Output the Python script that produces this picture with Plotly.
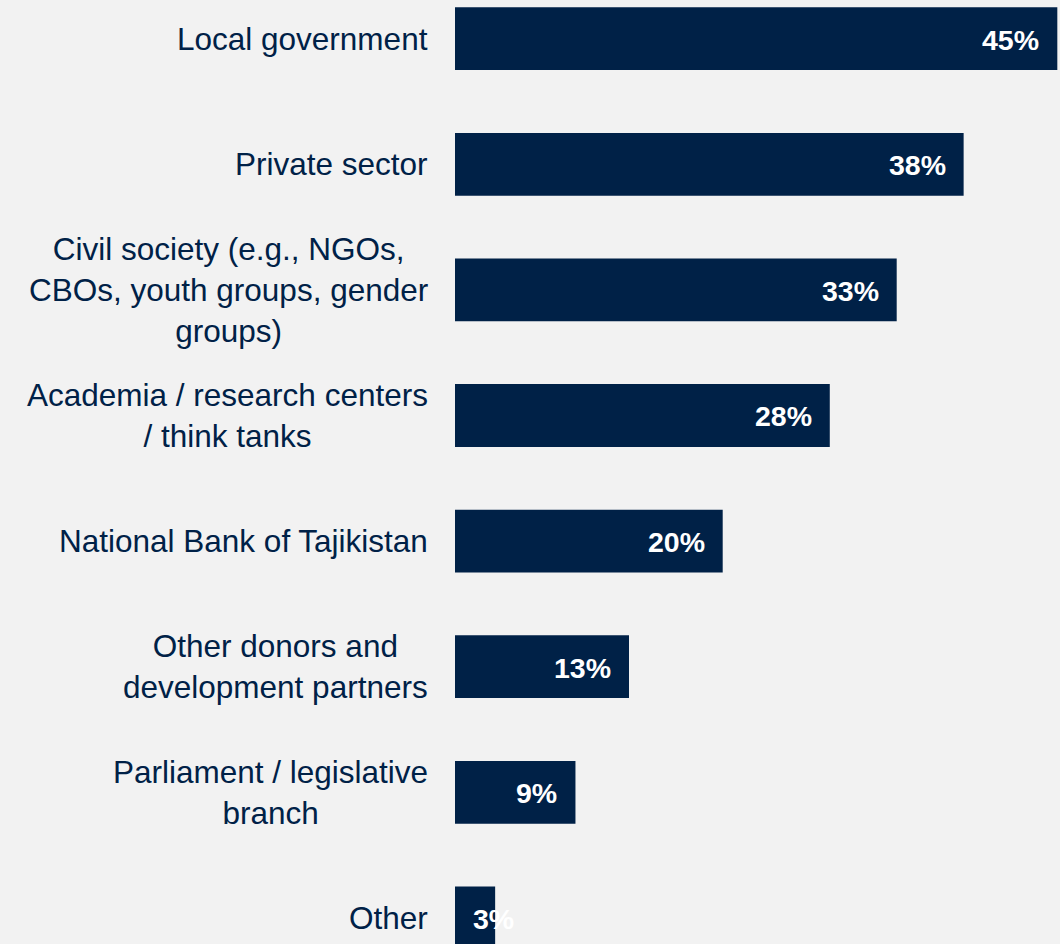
import plotly.graph_objects as go

# Stakeholder groups, listed top to bottom, and their shares (%)
categories = [
    "Local government",
    "Private sector",
    "Civil society (e.g., NGOs,<br>CBOs, youth groups, gender<br>groups)",
    "Academia / research centers<br>/ think tanks",
    "National Bank of Tajikistan",
    "Other donors and<br>development partners",
    "Parliament / legislative<br>branch",
    "Other",
]
shares = [45, 38, 33, 28, 20, 13, 9, 3]
value_labels = [f"{v}%" for v in shares]

NAVY = "#002147"
BG = "#f2f2f2"
FONT = "Arial, 'Liberation Sans', sans-serif"

W, H = 1060, 944
LEFT = 455
X_MAX = 45.2
px_per_unit = (W - LEFT) / X_MAX

positions = list(range(len(categories)))

fig = go.Figure(
    go.Bar(
        x=shares,
        y=positions,
        orientation="h",
        width=0.5,
        marker=dict(color=NAVY, line=dict(width=0)),
        hoverinfo="skip",
    )
)

annotations = []
for pos, cat, val, lab in zip(positions, categories, shares, value_labels):
    # category text, right-aligned block with centred lines
    annotations.append(dict(
        x=0, xref="paper", y=pos, yref="y",
        text=cat, showarrow=False,
        xanchor="right", yanchor="middle", xshift=-25, align="center",
        font=dict(family=FONT, size=31.5, color=NAVY),
    ))
    # value label at the inner end of the bar; short bars keep it at the start
    if val * px_per_unit > 60:
        ax, anchor, shift = val, "right", -16
    else:
        ax, anchor, shift = 0, "left", 16
    annotations.append(dict(
        x=ax, xref="x", y=pos, yref="y",
        text=f"<b>{lab}</b>", showarrow=False,
        xanchor=anchor, yanchor="middle", xshift=shift, yshift=-1,
        font=dict(family=FONT, size=28.5, color="white"),
    ))

fig.update_layout(
    width=W, height=H,
    margin=dict(l=LEFT, r=0, t=0, b=0),
    paper_bgcolor=BG, plot_bgcolor=BG,
    showlegend=False,
    bargap=0.5,
    xaxis=dict(range=[0, X_MAX], visible=False, fixedrange=True),
    yaxis=dict(range=[7.208, -0.308], visible=False, fixedrange=True),
    annotations=annotations,
)

fig.write_html("out.html", config=dict(displayModeBar=False))
